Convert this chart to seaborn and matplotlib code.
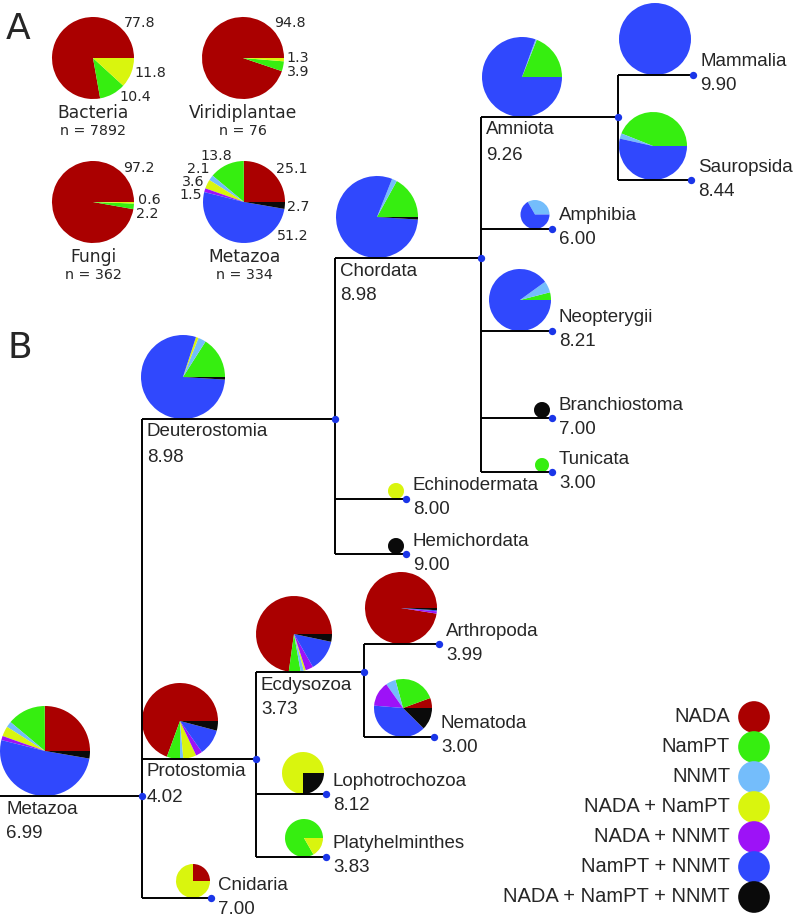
import numpy as np
import pandas as pd
import matplotlib
matplotlib.use("Agg")
import matplotlib.pyplot as plt
import seaborn as sns

# =========================
# DATA
# =========================

categories = ["NADA", "NamPT", "NNMT", "NADA + NamPT",
              "NADA + NNMT", "NamPT + NNMT", "NADA + NamPT + NNMT"]
cat_colors = ["#aa0000", "#36ee10", "#74bdfb", "#d9f50e",
              "#9d12f7", "#3048fd", "#0a0a0a"]

# panel A: kingdoms (percent per category, same order as categories)
kingdoms = ["Bacteria", "Viridiplantae", "Fungi", "Metazoa"]
kingdom_n = [7892, 76, 362, 334]
bacteria = [77.8, 10.4, 0, 11.8, 0, 0, 0]
viridiplantae = [94.8, 3.9, 0, 1.3, 0, 0, 0]
fungi = [97.2, 2.2, 0, 0.6, 0, 0, 0]
metazoa = [25.1, 13.8, 2.1, 3.6, 1.5, 51.2, 2.7]
kingdom_values = [bacteria, viridiplantae, fungi, metazoa]

# panel B: metazoan clades
clades = ["Metazoa", "Deuterostomia", "Chordata", "Amniota", "Mammalia",
          "Sauropsida", "Amphibia", "Neopterygii", "Branchiostoma",
          "Tunicata", "Echinodermata", "Hemichordata", "Protostomia",
          "Ecdysozoa", "Arthropoda", "Nematoda", "Lophotrochozoa",
          "Platyhelminthes", "Cnidaria"]
parents = [None, "Metazoa", "Deuterostomia", "Chordata", "Amniota",
           "Amniota", "Chordata", "Chordata", "Chordata",
           "Chordata", "Deuterostomia", "Deuterostomia", "Metazoa",
           "Protostomia", "Ecdysozoa", "Ecdysozoa", "Protostomia",
           "Protostomia", "Metazoa"]
scores = [6.99, 8.98, 8.98, 9.26, 9.90,
          8.44, 6.00, 8.21, 7.00,
          3.00, 8.00, 9.00, 4.02,
          3.73, 3.99, 3.00, 8.12,
          3.83, 7.00]
compositions = [
    [25.1, 13.8, 2.1, 3.6, 1.5, 51.2, 2.7],   # Metazoa
    [0, 16, 3, 1, 0, 79, 1],                   # Deuterostomia
    [0, 17, 2, 0, 0, 80, 1],                   # Chordata
    [0, 19, 0.5, 0, 0, 80.5, 0],               # Amniota
    [0, 0, 0, 0, 0, 100, 0],                   # Mammalia
    [0, 44, 2.5, 0, 0, 53.5, 0],               # Sauropsida
    [0, 0, 33.3, 0, 0, 66.7, 0],               # Amphibia
    [0, 4, 6, 0, 0, 90, 0],                    # Neopterygii
    [0, 0, 0, 0, 0, 0, 100],                   # Branchiostoma
    [0, 100, 0, 0, 0, 0, 0],                   # Tunicata
    [0, 0, 0, 100, 0, 0, 0],                   # Echinodermata
    [0, 0, 0, 0, 0, 0, 100],                   # Hemichordata
    [69.4, 5.6, 1.4, 5.6, 2.8, 11.1, 4.1],     # Protostomia
    [72.8, 5.0, 1.4, 0.8, 3.3, 13.4, 3.3],     # Ecdysozoa
    [97.5, 0, 0, 0, 1.0, 0.5, 1.0],            # Arthropoda
    [5.6, 23.6, 5.6, 0, 13.9, 38.9, 12.4],     # Nematoda
    [0, 0, 0, 75, 0, 0, 25],                   # Lophotrochozoa
    [0, 83.3, 0, 16.7, 0, 0, 0],               # Platyhelminthes
    [25, 0, 0, 75, 0, 0, 0],                   # Cnidaria
]

# =========================
# LAYOUT (pixel coordinates, y downward)
# =========================

W, H = 793, 917

node_x = {"Metazoa": 142, "Deuterostomia": 335, "Chordata": 481,
          "Amniota": 618, "Mammalia": 693, "Sauropsida": 691,
          "Amphibia": 552, "Neopterygii": 552, "Branchiostoma": 552,
          "Tunicata": 552, "Echinodermata": 406, "Hemichordata": 406,
          "Protostomia": 256, "Ecdysozoa": 364, "Arthropoda": 439,
          "Nematoda": 434, "Lophotrochozoa": 326, "Platyhelminthes": 326,
          "Cnidaria": 211}
node_y = {"Metazoa": 796, "Deuterostomia": 419, "Chordata": 258,
          "Amniota": 117, "Mammalia": 75, "Sauropsida": 180,
          "Amphibia": 229, "Neopterygii": 331, "Branchiostoma": 418,
          "Tunicata": 472, "Echinodermata": 499, "Hemichordata": 554,
          "Protostomia": 759, "Ecdysozoa": 672, "Arthropoda": 644,
          "Nematoda": 737, "Lophotrochozoa": 794, "Platyhelminthes": 857,
          "Cnidaria": 898}
pie_x = {"Metazoa": 45, "Deuterostomia": 183, "Chordata": 377,
         "Amniota": 522, "Mammalia": 655, "Sauropsida": 653,
         "Amphibia": 535, "Neopterygii": 520, "Branchiostoma": 542,
         "Tunicata": 542, "Echinodermata": 396, "Hemichordata": 396,
         "Protostomia": 180, "Ecdysozoa": 294, "Arthropoda": 401,
         "Nematoda": 403, "Lophotrochozoa": 303, "Platyhelminthes": 304,
         "Cnidaria": 193}
pie_r = {"Metazoa": 45, "Deuterostomia": 42, "Chordata": 41,
         "Amniota": 40, "Mammalia": 36, "Sauropsida": 34,
         "Amphibia": 14.5, "Neopterygii": 31, "Branchiostoma": 8,
         "Tunicata": 7, "Echinodermata": 8, "Hemichordata": 8,
         "Protostomia": 38, "Ecdysozoa": 38, "Arthropoda": 36,
         "Nematoda": 29, "Lophotrochozoa": 21, "Platyhelminthes": 19,
         "Cnidaria": 17}

kingdom_centers = [(93, 58), (243, 58), (93, 202), (244, 202)]
kingdom_label_pos = [
    [(140, 23), (135, 97), None, (150, 73), None, None, None],
    [(290, 23), (298, 72), None, (298, 58), None, None, None],
    [(139, 168), (147, 214), None, (149, 200), None, None, None],
    [(292, 169), (216, 156), (198, 169), (193, 182), (191, 195), (293, 236), (298, 207)],
]


def Y(y):
    return H - y


# =========================
# FIGURE
# =========================

sns.set_style("white")
plt.rcParams["font.family"] = ["Liberation Sans", "DejaVu Sans"]

fig = plt.figure(figsize=(W / 100, H / 100), dpi=100)
ax = fig.add_axes([0, 0, 1, 1])

wedge_style = dict(linewidth=0, antialiased=True)

# ---- panel A ----
ax.text(18, Y(29), "A", fontsize=26, ha="center", va="center", family="DejaVu Sans")
for name, n, vals, (cx, cy), labpos in zip(kingdoms, kingdom_n, kingdom_values,
                                           kingdom_centers, kingdom_label_pos):
    ax.pie(vals, colors=cat_colors, startangle=0, counterclock=True,
           center=(cx, Y(cy)), radius=41, wedgeprops=wedge_style, normalize=True)
    for v, pos in zip(vals, labpos):
        if pos is not None:
            ax.text(pos[0], Y(pos[1]), f"{v:.1f}", fontsize=10.3, ha="center",
                    va="center", family="DejaVu Sans")
    ax.text(cx, Y(cy + 55), name, fontsize=12.3, ha="center", va="center",
            family="DejaVu Sans")
    ax.text(cx, Y(cy + 73), f"n = {n}", fontsize=10.3, ha="center", va="center",
            family="DejaVu Sans")

# ---- panel B ----
ax.text(20, Y(348), "B", fontsize=26, ha="center", va="center", family="DejaVu Sans")

tree = pd.DataFrame({"clade": clades, "parent": parents, "score": scores})
tree["x"] = tree["clade"].map(node_x)
tree["y"] = tree["clade"].map(node_y)
tree["px"] = tree["parent"].map(node_x).fillna(0)
internal = set(p for p in parents if p is not None)

line_kw = dict(color="black", lw=1.4, solid_capstyle="butt", zorder=2)
for _, row in tree.iterrows():
    ax.plot([row.px, row.x], [Y(row.y), Y(row.y)], **line_kw)
    if row.clade in internal:
        kids = tree[tree["parent"] == row.clade]["y"]
        ax.plot([row.x, row.x], [Y(kids.min()), Y(kids.max())], **line_kw)

for clade, comp in zip(clades, compositions):
    r = pie_r[clade]
    ax.pie(comp, colors=cat_colors, startangle=0, counterclock=True,
           center=(pie_x[clade], Y(node_y[clade] - r)), radius=r,
           wedgeprops=wedge_style, normalize=True)

for _, row in tree.iterrows():
    if row.clade in internal:
        tx, ty1, ty2 = row.px + 5, row.y + 13, row.y + 38
        if row.clade == "Metazoa":
            tx = 6
    else:
        tx, ty1, ty2 = row.x + 7, row.y - 13, row.y + 11
    ax.text(tx, Y(ty1), row.clade, fontsize=13.5, ha="left", va="center")
    ax.text(tx, Y(ty2), f"{row.score:.2f}", fontsize=13.5, ha="left", va="center")

dots = pd.DataFrame({"x": tree["x"], "y": H - tree["y"]})
sns.scatterplot(data=dots, x="x", y="y", ax=ax, color="#1a35e8", s=28,
                linewidth=0, zorder=5, legend=False)

# ---- legend ----
leg = pd.DataFrame({"category": categories,
                    "x": [754] * len(categories),
                    "y": [H - (717 + 30 * i) for i in range(len(categories))]})
sns.scatterplot(data=leg, x="x", y="y", hue="category", palette=cat_colors,
                s=520, linewidth=0, ax=ax, legend=False, zorder=5)
for _, row in leg.iterrows():
    ax.text(730, row.y, row.category, fontsize=14.5, ha="right", va="center")

ax.set_xlim(0, W)
ax.set_ylim(0, H)
ax.set_aspect("equal")
ax.set_axis_off()

fig.savefig("out.png", dpi=100)
